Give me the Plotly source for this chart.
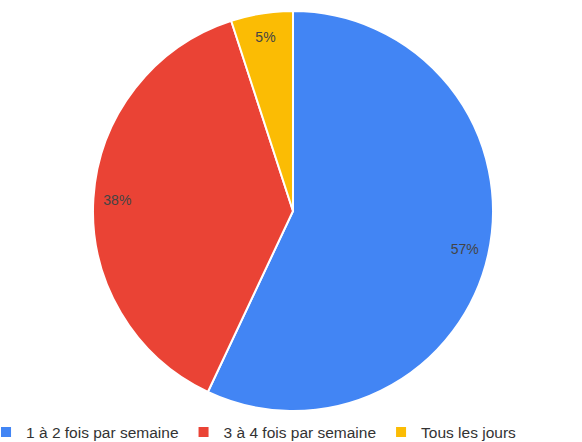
import plotly.graph_objects as go

labels = ["1 à 2 fois par semaine", "3 à 4 fois par semaine", "Tous les jours"]
values = [57, 38, 5]
colors = ["#4285F4", "#EA4335", "#FBBC04"]

FONT = "Liberation Sans, Arial"
dom = dict(x=[93/582, 493/582], y=[31/442, 431/442])

fig = go.Figure()
# slices
fig.add_trace(go.Pie(
    labels=labels, values=values, sort=False,
    direction="clockwise", rotation=0,
    marker=dict(colors=colors, line=dict(color="white", width=2)),
    textinfo="none",
    domain=dom,
    hoverinfo="label+percent",
))
# percentage labels placed near the rim (ring overlay)
fig.add_trace(go.Pie(
    labels=labels, values=values, sort=False,
    direction="clockwise", rotation=0, hole=0.76,
    marker=dict(colors=["rgba(0,0,0,0)"] * 3, line=dict(width=0)),
    texttemplate="%{percent:.0%}",
    textposition="inside",
    insidetextorientation="horizontal",
    textfont=dict(family=FONT, size=14, color="#444444"),
    domain=dom, showlegend=False, hoverinfo="skip",
))

fig.update_layout(
    width=582, height=442,
    margin=dict(l=0, r=0, t=0, b=0, autoexpand=False),
    paper_bgcolor="white",
    showlegend=True,
    legend=dict(
        orientation="h", x=-0.024, xanchor="left", y=-0.017, yanchor="bottom",
        font=dict(family=FONT, size=15.5, color="#333333"),
        itemwidth=30,
        tracegroupgap=0,
    ),
    font=dict(family=FONT),
)

fig.write_html("out.html", config={"displayModeBar": False},
               post_script="document.body.style.margin='0';")
